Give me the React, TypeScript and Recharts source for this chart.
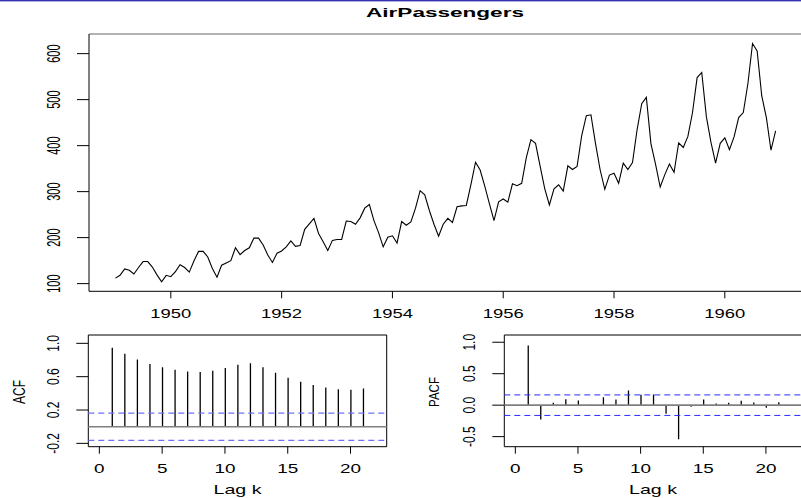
import { LineChart, Line, BarChart, Bar, XAxis, YAxis, ReferenceLine, ReferenceArea } from "recharts";

const FONT = '"Liberation Sans", Arial, Helvetica, sans-serif';

// monthly totals, Jan 1949 .. Dec 1960
const startYear = 1949;
const passengers = [
  112, 118, 132, 129, 121, 135, 148, 148, 136, 119, 104, 118,
  115, 126, 141, 135, 125, 149, 170, 170, 158, 133, 114, 140,
  145, 150, 178, 163, 172, 178, 199, 199, 184, 162, 146, 166,
  171, 180, 193, 181, 183, 218, 230, 242, 209, 191, 172, 194,
  196, 196, 236, 235, 229, 243, 264, 272, 237, 211, 180, 201,
  204, 188, 235, 227, 234, 264, 302, 293, 259, 229, 203, 229,
  242, 233, 267, 269, 270, 315, 364, 347, 312, 274, 237, 278,
  284, 277, 317, 313, 318, 374, 413, 405, 355, 306, 271, 306,
  315, 301, 356, 348, 355, 422, 465, 467, 404, 347, 305, 336,
  340, 318, 362, 348, 363, 435, 491, 505, 404, 359, 310, 337,
  360, 342, 406, 396, 420, 472, 548, 559, 463, 407, 362, 405,
  417, 391, 419, 461, 472, 535, 622, 606, 508, 461, 390, 432,
];
const yearTicks = [1950, 1952, 1954, 1956, 1958, 1960];
const passengerTicks = [100, 200, 300, 400, 500, 600];

const lags = [1, 2, 3, 4, 5, 6, 7, 8, 9, 10, 11, 12, 13, 14, 15, 16, 17, 18, 19, 20, 21];
const acfValues = [
  0.948, 0.876, 0.807, 0.753, 0.714, 0.682, 0.663, 0.656, 0.671, 0.703, 0.743,
  0.76, 0.713, 0.646, 0.586, 0.538, 0.5, 0.469, 0.45, 0.442, 0.457,
];
const pacfValues = [
  0.948, -0.229, 0.038, 0.094, 0.074, 0.008, 0.126, 0.09, 0.232, 0.166, 0.171,
  -0.135, -0.54, -0.027, 0.091, 0.025, 0.037, 0.07, 0.043, -0.043, 0.046,
];
const lagTicks = [0, 5, 10, 15, 20];
const acfTicks = [-0.2, 0, 0.2, 0.4, 0.6, 0.8, 1.0];
const acfLabelled = [-0.2, 0.2, 0.6, 1.0];
const pacfTicks = [-0.5, 0, 0.5, 1.0];
const ciLimit = 0.163;

const seriesData = passengers.map((v, i) => ({ t: startYear + i / 12, v }));
const acfData = lags.map((k, i) => ({ lag: k, acf: acfValues[i] }));
const pacfData = lags.map((k, i) => ({ lag: k, pacf: pacfValues[i] }));

// horizontal tick label, stretched to a given width
function HTick(props: any) {
  const { x, y, payload, size, perChar, dy } = props;
  const label = String(payload.value);
  return (
    <text
      x={x}
      y={y + dy}
      textAnchor="middle"
      fontSize={size}
      fontFamily={FONT}
      fill="#000"
      textLength={label.length * perChar}
      lengthAdjust="spacingAndGlyphs"
    >
      {label}
    </text>
  );
}

// rotated y tick label (R style, las = 0)
function VTick(props: any) {
  const { x, y, payload, fv, sx, digits, show } = props;
  const v = payload.value as number;
  if (show && !show.some((s: number) => Math.abs(s - v) < 1e-9)) return <g />;
  const label = digits ? v.toFixed(digits) : String(v);
  return (
    <text
      transform={`translate(${x - 23.5},${y}) scale(${sx},1) rotate(-90)`}
      textAnchor="middle"
      dy="0.35em"
      fontSize={fv}
      fontFamily={FONT}
      fill="#000"
    >
      {label}
    </text>
  );
}

function VLabel({ cx, cy, text, fv, sx }: { cx: number; cy: number; text: string; fv: number; sx: number }) {
  return (
    <text
      transform={`translate(${cx},${cy}) scale(${sx},1) rotate(-90)`}
      textAnchor="middle"
      dy="0.35em"
      fontSize={fv}
      fontFamily={FONT}
      fill="#000"
    >
      {text}
    </text>
  );
}

export default function App() {
  return (
    <div
      style={{
        position: "absolute",
        left: 0,
        top: 0,
        width: 801,
        height: 498,
        overflow: "hidden",
        background: "#fff",
      }}
    >
      {/* Time series */}
      <div style={{ position: "absolute", left: 0, top: 0 }}>
        <LineChart
          width={820}
          height={330}
          data={seriesData}
          margin={{ top: 34, left: 29, right: 18, bottom: 8.7 }}
        >
          <XAxis
            dataKey="t"
            type="number"
            domain={[1948.523, 1961.393]}
            allowDataOverflow
            ticks={yearTicks}
            height={30}
            stroke="#000"
            tickSize={7}
            tickMargin={0}
            tick={(p: any) => <HTick {...p} size={13} perChar={10.25} dy={20} />}
          />
          <YAxis
            type="number"
            domain={[83.3, 642.7]}
            allowDataOverflow
            ticks={passengerTicks}
            width={60}
            stroke="#000"
            tickSize={12}
            tickMargin={0}
            tick={(p: any) => <VTick {...p} fv={11} sx={1.75} />}
          />
          <ReferenceLine y={642.7} stroke="#999" strokeWidth={1.5} ifOverflow="visible" />
          <Line
            dataKey="v"
            type="linear"
            stroke="#000"
            strokeWidth={1.1}
            dot={false}
            isAnimationActive={false}
          />
        </LineChart>
      </div>

      {/* ACF */}
      <div style={{ position: "absolute", left: 0, top: 320 }}>
        <BarChart
          width={400}
          height={178}
          data={acfData}
          margin={{ top: 15, left: 28.3, right: 13.3, bottom: 21.3 }}
        >
          <XAxis
            dataKey="lag"
            type="number"
            domain={[-0.88, 22.88]}
            allowDataOverflow
            ticks={lagTicks}
            height={30}
            axisLine={false}
            tickLine={{ stroke: "#000" }}
            tickSize={7}
            tickMargin={0}
            tick={(p: any) => <HTick {...p} size={13.5} perChar={10.5} dy={19.7} />}
          />
          <YAxis
            type="number"
            domain={[-0.24, 1.1]}
            allowDataOverflow
            ticks={acfTicks}
            width={60}
            axisLine={false}
            tickLine={{ stroke: "#000" }}
            tickSize={12}
            tickMargin={0}
            tick={(p: any) => <VTick {...p} fv={12} sx={1.36} digits={1} show={acfLabelled} />}
          />
          <ReferenceArea x1={-0.88} x2={22.88} y1={-0.24} y2={1.1} fill="none" stroke="#000" ifOverflow="visible" />
          <ReferenceLine y={0} stroke="#808080" strokeWidth={1.6} />
          <ReferenceLine y={ciLimit} stroke="#7070ff" strokeWidth={1.3} strokeDasharray="6 4" />
          <ReferenceLine y={-ciLimit} stroke="#7070ff" strokeWidth={1.3} strokeDasharray="6 4" />
          <Bar dataKey="acf" fill="#000" barSize={1.3} isAnimationActive={false} />
        </BarChart>
      </div>

      {/* PACF */}
      <div style={{ position: "absolute", left: 400, top: 320 }}>
        <BarChart
          width={420}
          height={178}
          data={pacfData}
          margin={{ top: 15, left: 44.3, right: 18, bottom: 21.3 }}
        >
          <XAxis
            dataKey="lag"
            type="number"
            domain={[-0.88, 22.88]}
            allowDataOverflow
            ticks={lagTicks}
            height={30}
            axisLine={false}
            tickLine={{ stroke: "#000" }}
            tickSize={7}
            tickMargin={0}
            tick={(p: any) => <HTick {...p} size={13.5} perChar={10.5} dy={19.7} />}
          />
          <YAxis
            type="number"
            domain={[-0.66, 1.115]}
            allowDataOverflow
            ticks={pacfTicks}
            width={60}
            axisLine={false}
            tickLine={{ stroke: "#000" }}
            tickSize={12}
            tickMargin={0}
            tick={(p: any) => <VTick {...p} fv={12} sx={1.36} digits={1} />}
          />
          <ReferenceArea x1={-0.88} x2={22.88} y1={-0.66} y2={1.115} fill="none" stroke="#000" ifOverflow="visible" />
          <ReferenceLine y={0} stroke="#808080" strokeWidth={1.6} />
          <ReferenceLine y={ciLimit} stroke="#2a2aff" strokeWidth={1} strokeDasharray="6 4" />
          <ReferenceLine y={-ciLimit} stroke="#2a2aff" strokeWidth={1} strokeDasharray="6 4" />
          <Bar dataKey="pacf" fill="#000" barSize={1.3} isAnimationActive={false} />
        </BarChart>
      </div>

      {/* Title, frame line and axis titles */}
      <svg
        width={801}
        height={498}
        style={{ position: "absolute", left: 0, top: 0, pointerEvents: "none" }}
      >
        <rect x={0} y={0} width={801} height={1.4} fill="#3434b0" />
        <text
          x={445}
          y={17.3}
          textAnchor="middle"
          fontSize={12.5}
          fontWeight="bold"
          fontFamily={FONT}
          textLength={158}
          lengthAdjust="spacingAndGlyphs"
        >
          AirPassengers
        </text>
        <VLabel cx={20} cy={392} text="ACF" fv={12} sx={1.3} />
        <VLabel cx={434} cy={392} text="PACF" fv={11.5} sx={1.35} />
        <text x={237.5} y={494} textAnchor="middle" fontSize={13} fontFamily={FONT} textLength={48} lengthAdjust="spacingAndGlyphs">
          Lag k
        </text>
        <text x={653} y={494} textAnchor="middle" fontSize={13} fontFamily={FONT} textLength={48} lengthAdjust="spacingAndGlyphs">
          Lag k
        </text>
      </svg>
    </div>
  );
}
